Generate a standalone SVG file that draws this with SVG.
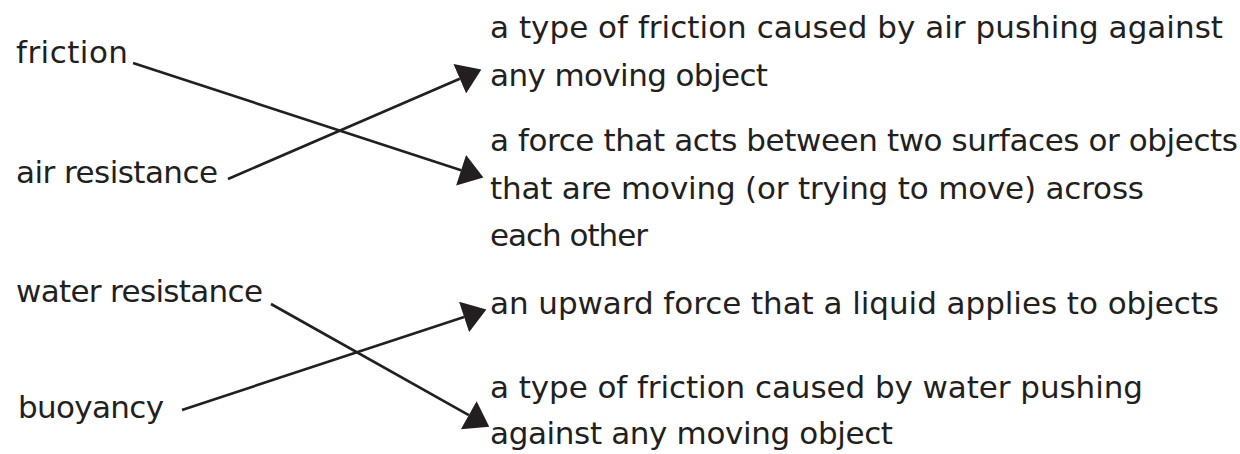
<svg xmlns="http://www.w3.org/2000/svg" width="1240" height="454" viewBox="0 0 1240 454">
<defs>
<style>
text { font-family: "DejaVu Sans", "Open Sans", sans-serif; font-size: 31px; fill: #231f20; }
.conn { stroke: #231f20; stroke-width: 2.6; fill: none; marker-end: url(#arrow); }
</style>
<marker id="arrow" markerUnits="userSpaceOnUse" markerWidth="24" markerHeight="32" refX="0" refY="15" viewBox="0 0 22 30" orient="auto">
<path d="M0,0 L22,15 L0,30 Z" fill="#231f20"/>
</marker>
</defs>
<rect width="1240" height="454" fill="#ffffff"/>
<g id="term-friction"><text x="16" y="63" textLength="112">friction</text></g>
<g id="term-air-resistance"><text x="16" y="183" textLength="202">air resistance</text></g>
<g id="term-water-resistance"><text x="16" y="302" textLength="247">water resistance</text></g>
<g id="term-buoyancy"><text x="18" y="418" textLength="146">buoyancy</text></g>
<g id="def-air-resistance">
<text x="490" y="38" textLength="733">a type of friction caused by air pushing against</text>
<text x="490" y="86" textLength="278">any moving object</text>
</g>
<g id="def-friction">
<text x="490" y="151" textLength="748">a force that acts between two surfaces or objects</text>
<text x="490" y="199" textLength="654">that are moving (or trying to move) across</text>
<text x="490" y="246" textLength="158">each other</text>
</g>
<g id="def-buoyancy">
<text x="490" y="314" textLength="729">an upward force that a liquid applies to objects</text>
</g>
<g id="def-water-resistance">
<text x="490" y="398" textLength="653">a type of friction caused by water pushing</text>
<text x="490" y="444" textLength="403">against any moving object</text>
</g>
<g id="connectors">
<line class="conn" x1="133" y1="63" x2="461.1" y2="170.2"/>
<line class="conn" x1="228" y1="179" x2="459.8" y2="78.7"/>
<line class="conn" x1="271" y1="304" x2="468.8" y2="415.2"/>
<line class="conn" x1="182" y1="410" x2="464.1" y2="316.9"/>
</g>
</svg>
